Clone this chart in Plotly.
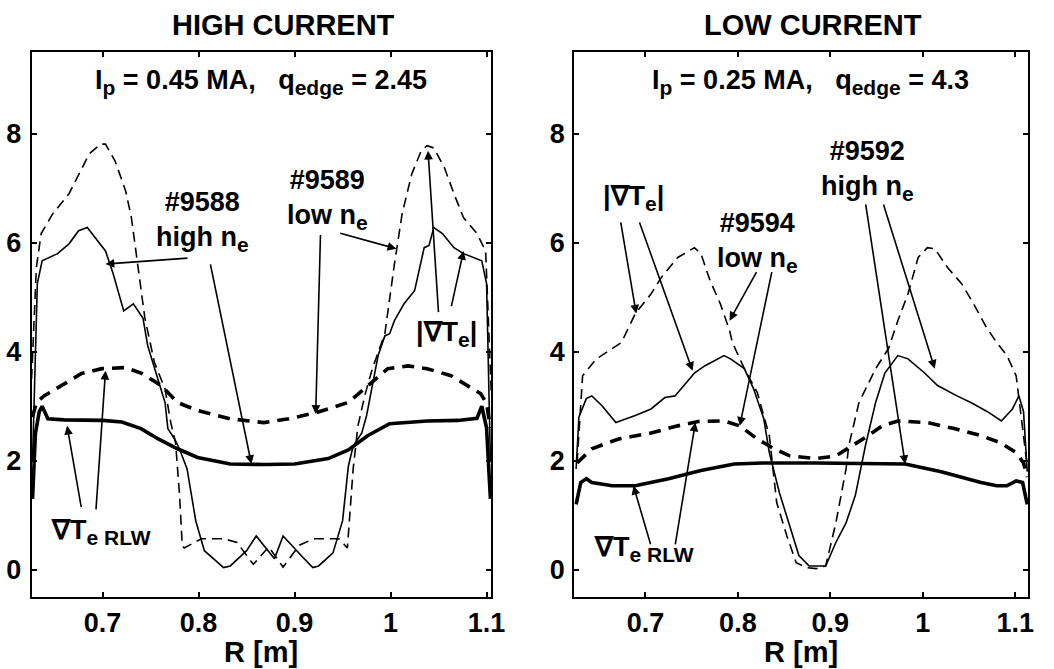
import plotly.graph_objects as go

# ---------------- HIGH CURRENT (left panel) ----------------
# #9588 high n_e, |grad Te| (thin solid)
hi_abs_L_R = [0.627, 0.632, 0.637, 0.644, 0.653, 0.665, 0.675, 0.684, 0.703, 0.711, 0.722, 0.732, 0.742,
              0.747, 0.758, 0.765, 0.768, 0.775, 0.780, 0.788, 0.797, 0.806, 0.826, 0.833, 0.850, 0.860,
              0.879, 0.888, 0.909, 0.919, 0.925, 0.940, 0.950, 0.956, 0.961, 0.970, 0.975, 0.981, 0.987,
              0.994, 0.999, 1.004, 1.014, 1.025, 1.035, 1.040, 1.045, 1.054, 1.066, 1.076, 1.086, 1.095,
              1.100, 1.104]
hi_abs_L_V = [2.0, 5.25, 5.67, 5.73, 5.8, 5.98, 6.22, 6.28, 5.85, 5.43, 4.75, 4.88, 4.62,
              4.11, 3.5, 3.07, 2.59, 2.4, 2.22, 1.85, 0.9, 0.35, 0.04, 0.07, 0.35, 0.62,
              0.2, 0.62, 0.22, 0.04, 0.07, 0.31, 0.9, 1.9, 2.27, 2.51, 2.83, 3.38, 3.93,
              4.29, 4.33, 4.57, 4.88, 5.12, 5.91, 5.95, 6.28, 6.17, 5.91, 5.8, 5.73, 5.67,
              5.25, 2.0]
# #9589 low n_e, |grad Te| (thin dashed)
lo_abs_L_R = [0.626, 0.631, 0.636, 0.648, 0.665, 0.675, 0.686, 0.698, 0.703, 0.713, 0.724, 0.730, 0.737,
              0.744, 0.754, 0.765, 0.771, 0.776, 0.780, 0.783, 0.785, 0.803, 0.826, 0.840, 0.857, 0.873,
              0.888, 0.905, 0.920, 0.929, 0.946, 0.955, 0.957, 0.961, 0.966, 0.973, 0.981, 0.991, 0.994,
              1.004, 1.012, 1.022, 1.032, 1.038, 1.045, 1.056, 1.066, 1.076, 1.090, 1.099, 1.105]
lo_abs_L_V = [3.5, 5.55, 6.17, 6.53, 6.9, 7.26, 7.63, 7.81, 7.81, 7.5, 6.95, 6.46, 5.55,
              4.62, 3.8, 3.32, 2.7, 2.33, 1.41, 0.44, 0.4, 0.57, 0.57, 0.5, 0.1, 0.42,
              0.05, 0.45, 0.57, 0.57, 0.57, 0.4, 0.9, 1.85, 2.64, 3.19, 3.69, 4.17, 4.33,
              5.61, 6.53, 7.26, 7.69, 7.78, 7.74, 7.38, 6.9, 6.46, 6.17, 5.85, 3.2]
# #9589 low n_e, grad Te RLW (thick dashed)
lo_rlw_L_R = [0.627, 0.631, 0.639, 0.662, 0.678, 0.699, 0.724, 0.740, 0.761, 0.778, 0.799, 0.833, 0.868,
              0.894, 0.922, 0.956, 0.976, 0.997, 1.018, 1.038, 1.063, 1.079, 1.094, 1.100, 1.104]
lo_rlw_L_V = [2.8, 3.07, 3.19, 3.43, 3.6, 3.69, 3.71, 3.61, 3.38, 3.07, 2.92, 2.77, 2.7,
              2.77, 2.88, 3.07, 3.38, 3.69, 3.74, 3.69, 3.56, 3.38, 3.23, 3.05, 2.6]
# #9588 high n_e, grad Te RLW (thick solid)
hi_rlw_L_R = [0.627, 0.630, 0.634, 0.637, 0.643, 0.660, 0.700, 0.720, 0.740, 0.758, 0.778, 0.799, 0.833,
              0.870, 0.900, 0.935, 0.956, 0.976, 0.999, 1.038, 1.070, 1.090, 1.095, 1.100, 1.104]
hi_rlw_L_V = [1.3, 2.5, 2.9, 3.0, 2.77, 2.75, 2.74, 2.71, 2.59, 2.4, 2.22, 2.06, 1.94,
              1.93, 1.94, 2.04, 2.2, 2.46, 2.68, 2.73, 2.74, 2.78, 3.0, 2.6, 1.3]

# ---------------- LOW CURRENT (right panel) ----------------
# #9592 high n_e, |grad Te| (thin solid)
hi_abs_R_R = [0.625, 0.628, 0.636, 0.642, 0.653, 0.668, 0.689, 0.706, 0.721, 0.732, 0.753, 0.764, 0.785,
              0.792, 0.807, 0.817, 0.828, 0.834, 0.845, 0.856, 0.866, 0.877, 0.895, 0.906, 0.917, 0.927,
              0.938, 0.949, 0.959, 0.973, 0.984, 1.002, 1.016, 1.037, 1.052, 1.070, 1.085, 1.097, 1.104,
              1.109, 1.113]
hi_abs_R_V = [1.85, 2.8, 3.14, 3.19, 3.01, 2.7, 2.83, 2.95, 3.16, 3.19, 3.61, 3.74, 3.93,
              3.87, 3.69, 3.32, 2.77, 2.15, 1.41, 0.81, 0.26, 0.07, 0.07, 0.5, 0.86, 1.36,
              2.28, 3.07, 3.61, 3.93, 3.87, 3.61, 3.38, 3.19, 3.07, 2.9, 2.73, 2.95, 3.19,
              2.9, 1.8]
# #9594 low n_e, |grad Te| (thin dashed)
lo_abs_R_R = [0.626, 0.632, 0.647, 0.657, 0.674, 0.689, 0.706, 0.717, 0.735, 0.753, 0.760, 0.770, 0.781,
              0.791, 0.794, 0.807, 0.821, 0.834, 0.842, 0.853, 0.863, 0.874, 0.885, 0.895, 0.906, 0.917,
              0.920, 0.931, 0.949, 0.963, 0.973, 0.984, 0.995, 1.005, 1.013, 1.027, 1.042, 1.055, 1.069,
              1.080, 1.091, 1.101, 1.109, 1.113]
lo_abs_R_V = [1.96, 3.56, 3.87, 3.98, 4.17, 4.7, 5.06, 5.36, 5.73, 5.91, 5.8, 5.3, 4.88,
              4.39, 4.17, 3.69, 3.25, 2.46, 1.23, 0.62, 0.13, 0.04, 0.02, 0.07, 0.86, 1.85,
              2.28, 3.07, 3.69, 4.06, 4.57, 5.06, 5.73, 5.91, 5.89, 5.54, 5.25, 4.88, 4.44,
              4.17, 3.93, 3.56, 2.46, 1.9]
# #9594 low n_e, grad Te RLW (thick dashed)
lo_rlw_R_R = [0.626, 0.642, 0.671, 0.706, 0.735, 0.757, 0.785, 0.802, 0.821, 0.839, 0.856, 0.885, 0.906,
              0.924, 0.941, 0.956, 0.973, 1.005, 1.034, 1.063, 1.084, 1.101, 1.109, 1.113]
lo_rlw_R_V = [1.96, 2.22, 2.4, 2.51, 2.64, 2.72, 2.73, 2.64, 2.4, 2.22, 2.09, 2.04, 2.09,
              2.28, 2.46, 2.64, 2.73, 2.7, 2.59, 2.46, 2.33, 2.15, 1.96, 1.7]
# #9592 high n_e, grad Te RLW (thick solid)
hi_rlw_R_R = [0.625, 0.630, 0.636, 0.642, 0.664, 0.689, 0.725, 0.760, 0.796, 0.827, 0.885, 0.940, 0.981,
              1.020, 1.063, 1.080, 1.091, 1.101, 1.108, 1.113]
hi_rlw_R_V = [1.2, 1.6, 1.67, 1.6, 1.54, 1.54, 1.67, 1.82, 1.94, 1.96, 1.96, 1.95, 1.94,
              1.8, 1.6, 1.54, 1.54, 1.63, 1.6, 1.2]

x_tickvals = [0.7, 0.8, 0.9, 1.0, 1.1]
x_ticktext = ["0.7", "0.8", "0.9", "1", "1.1"]
y_tickvals = [0, 2, 4, 6, 8]
y_ticktext = ["0", "2", "4", "6", "8"]
panel_titles = ["HIGH CURRENT", "LOW CURRENT"]

FONT = "Liberation Sans"
THIN = 1.6
THICK = 3.6
SUB = "<sub><span style='font-size:21px'>{}</span></sub>"

fig = go.Figure()

def add_line(x, y, xa, ya, width, dash):
    fig.add_trace(go.Scatter(x=x, y=y, mode="lines", xaxis=xa, yaxis=ya,
                             line=dict(color="black", width=width, dash=dash),
                             showlegend=False, hoverinfo="skip"))

add_line(hi_abs_L_R, hi_abs_L_V, "x", "y", THIN, "solid")
add_line(lo_abs_L_R, lo_abs_L_V, "x", "y", THIN, "10px,6px")
add_line(lo_rlw_L_R, lo_rlw_L_V, "x", "y", THICK, "12px,8px")
add_line(hi_rlw_L_R, hi_rlw_L_V, "x", "y", THICK, "solid")

add_line(hi_abs_R_R, hi_abs_R_V, "x2", "y2", THIN, "solid")
add_line(lo_abs_R_R, lo_abs_R_V, "x2", "y2", THIN, "10px,6px")
add_line(lo_rlw_R_R, lo_rlw_R_V, "x2", "y2", THICK, "12px,8px")
add_line(hi_rlw_R_R, hi_rlw_R_V, "x2", "y2", THICK, "solid")

axis_common = dict(showgrid=False, zeroline=False, showline=True, linecolor="black", linewidth=2,
                   mirror="ticks", ticks="inside", ticklen=5, tickwidth=1.5, tickcolor="black",
                   tickfont=dict(family=FONT, size=27, color="black", weight="bold"))

W, H = 1054, 669
dom_y = [1 - 597 / H, 1 - 52 / H]
fig.update_layout(
    width=W, height=H, margin=dict(l=0, r=0, t=0, b=0),
    paper_bgcolor="white", plot_bgcolor="white", showlegend=False,
    xaxis=dict(domain=[32 / W, 498 / W], range=[0.626, 1.105], anchor="y",
               tickvals=x_tickvals, ticktext=x_ticktext, ticklabelstandoff=1, **axis_common),
    yaxis=dict(domain=dom_y, range=[-0.5, 9.5], anchor="x",
               tickvals=y_tickvals, ticktext=y_ticktext, ticklabelstandoff=3, **axis_common),
    xaxis2=dict(domain=[582 / W, 1042 / W], range=[0.623, 1.114], anchor="y2",
                tickvals=x_tickvals, ticktext=x_ticktext, ticklabelstandoff=1, **axis_common),
    yaxis2=dict(domain=dom_y, range=[-0.5, 9.5], anchor="x2",
                tickvals=y_tickvals, ticktext=y_ticktext, ticklabelstandoff=2, **axis_common),
)

ann = []
def text(x, y, t, xref, yref, size=27, xanchor="center", yanchor="middle"):
    ann.append(dict(x=x, y=y, xref=xref, yref=yref, text=t, showarrow=False,
                    xanchor=xanchor, yanchor=yanchor,
                    font=dict(family=FONT, size=size, color="black", weight="bold")))

def arrow(hx, hy, tx, ty, xr, yr):
    ann.append(dict(x=hx, y=hy, ax=tx, ay=ty, xref=xr, yref=yr, axref=xr, ayref=yr,
                    text="", showarrow=True, arrowhead=2, arrowsize=1.1, arrowwidth=1.6,
                    arrowcolor="black", standoff=0, startstandoff=0))

# panel titles
text(287 / W, 1 - 25 / H, panel_titles[0], "paper", "paper", size=29)
text(824 / W, 1 - 25 / H, panel_titles[1], "paper", "paper", size=29)
# x axis titles
text((32 + 498) / 2 / W, 1 - 652 / H, "R [m]", "paper", "paper", size=29)
text((582 + 1042) / 2 / W, 1 - 652 / H, "R [m]", "paper", "paper", size=29)

# left panel texts
text(0.865, 8.95, "I" + SUB.format("p") + " = 0.45 MA,   q" + SUB.format("edge") + " = 2.45", "x", "y")
text(0.804, 6.39, "#9588<br>high n" + SUB.format("e"), "x", "y")
text(0.934, 6.8, "#9589<br>low n" + SUB.format("e"), "x", "y")
text(1.058, 4.33, "|∇T" + SUB.format("e") + "|", "x", "y")
text(0.6445, 0.70, "∇T" + SUB.format("e RLW"), "x", "y", xanchor="left")
# left panel arrows
arrow(0.703, 5.61, 0.790, 5.72, "x", "y")
arrow(0.855, 1.94, 0.812, 5.63, "x", "y")
arrow(1.006, 5.89, 0.946, 6.18, "x", "y")
arrow(0.922, 2.86, 0.927, 6.17, "x", "y")
arrow(1.039, 7.69, 1.050, 4.70, "x", "y")
arrow(1.076, 5.85, 1.063, 4.81, "x", "y")
arrow(0.663, 2.64, 0.678, 1.12, "x", "y")
arrow(0.703, 3.65, 0.693, 1.08, "x", "y")

# right panel texts
text(0.879, 8.95, "I" + SUB.format("p") + " = 0.25 MA,   q" + SUB.format("edge") + " = 4.3", "x2", "y2")
text(0.687, 6.83, "|∇T" + SUB.format("e") + "|", "x2", "y2")
text(0.821, 6.0, "#9594<br>low n" + SUB.format("e"), "x2", "y2")
text(0.940, 7.32, "#9592<br>high n" + SUB.format("e"), "x2", "y2")
text(0.642, 0.39, "∇T" + SUB.format("e RLW"), "x2", "y2", xanchor="left")
# right panel arrows
arrow(0.690, 4.70, 0.673, 6.40, "x2", "y2")
arrow(0.751, 3.65, 0.693, 6.40, "x2", "y2")
arrow(0.791, 4.57, 0.821, 5.49, "x2", "y2")
arrow(0.802, 2.64, 0.837, 5.49, "x2", "y2")
arrow(0.981, 1.94, 0.938, 6.73, "x2", "y2")
arrow(1.013, 3.69, 0.957, 6.73, "x2", "y2")
arrow(0.687, 1.54, 0.706, 0.44, "x2", "y2")
arrow(0.754, 2.70, 0.732, 0.44, "x2", "y2")

fig.update_layout(annotations=ann)
fig.write_html("out.html")
